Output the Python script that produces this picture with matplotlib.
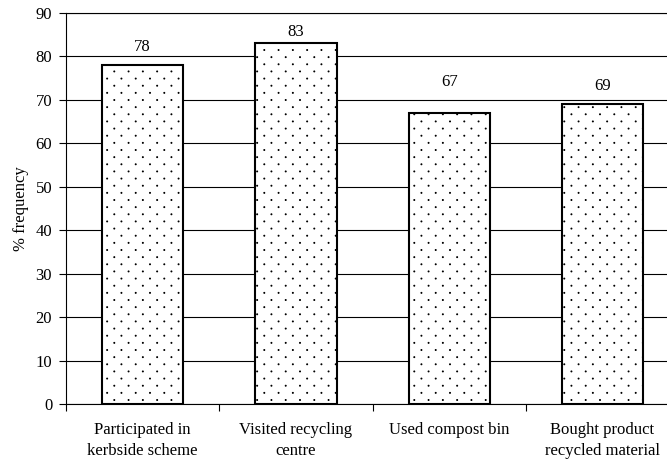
import numpy as np
import matplotlib.pyplot as plt
import matplotlib.hatch as mhatch
from matplotlib.path import Path

plt.rcParams['font.family'] = ['Liberation Serif', 'DejaVu Serif']
plt.rcParams['hatch.linewidth'] = 0.7
plt.rcParams['hatch.color'] = '#333333'

categories = ['Participated in\nkerbside scheme', 'Visited recycling\ncentre',
              'Used compost bin', 'Bought product\nrecycled material']
values = [78, 83, 67, 69]


class StaggeredDots(mhatch.HatchPatternBase):
    """Fine staggered dot fill used for '.' hatches (14 rows, 7 dots per row)."""

    def __init__(self, hatch, density):
        n = hatch.count('.')
        circ = Path.unit_circle()
        self.shape_vertices = circ.vertices * 0.005
        self.shape_codes = circ.codes
        rows, cols = 14, 7
        centers = []
        for j in range(rows + 1):
            y = j / rows
            if j % 2 == 0:
                xs = np.arange(cols + 1) / cols
            else:
                xs = (np.arange(cols) + 0.5) / cols
            centers += [(xx, y) for xx in xs]
        self.centers = centers
        self.num_vertices = len(centers) * len(self.shape_vertices) if n else 0

    def set_vertices_and_codes(self, vertices, codes):
        k = len(self.shape_vertices)
        for i, (cx, cy) in enumerate(self.centers):
            vertices[i * k:(i + 1) * k] = self.shape_vertices + (cx, cy)
            codes[i * k:(i + 1) * k] = self.shape_codes


mhatch._hatch_types = [StaggeredDots if t is mhatch.SmallFilledCircles else t
                       for t in mhatch._hatch_types]

fig = plt.figure(figsize=(6.67, 4.59), dpi=100)
ax = fig.add_axes([0.099, 0.1198, 0.919, 0.852])

x = np.arange(len(categories))
bars = ax.bar(x, values, width=0.53, color='white', edgecolor='black',
              linewidth=1.5, hatch='.', zorder=3)

# value labels sit clear of the gridlines, so the lift varies per bar
label_lift = [13, 8, 22.5, 13]
for rect, v, dy in zip(bars, values, label_lift):
    ax.annotate('{}'.format(v),
                xy=(rect.get_x() + rect.get_width() / 2, v),
                xytext=(0, dy), textcoords='offset points',
                ha='center', va='center', fontsize=12)

ax.set_xlim(-0.5, 3.5)
ax.set_ylim(0, 90)
ax.set_yticks(np.arange(0, 91, 10))
ax.yaxis.grid(True, color='black', linewidth=0.8, zorder=0)
ax.set_axisbelow(True)

ax.set_xticks(x)
ax.set_xticklabels(categories, fontsize=12, linespacing=1.4)
ax.tick_params(axis='x', length=0, pad=13)
ax.set_xticks(np.arange(-0.5, 4, 1), minor=True)
ax.tick_params(axis='x', which='minor', length=5, direction='out', width=0.8)
ax.tick_params(axis='y', length=5, direction='out', width=0.8, labelsize=12, pad=5)

ax.set_ylabel('% frequency', fontsize=12, labelpad=5)
for s in ax.spines.values():
    s.set_linewidth(0.8)

fig.savefig('out.png', dpi=100)
